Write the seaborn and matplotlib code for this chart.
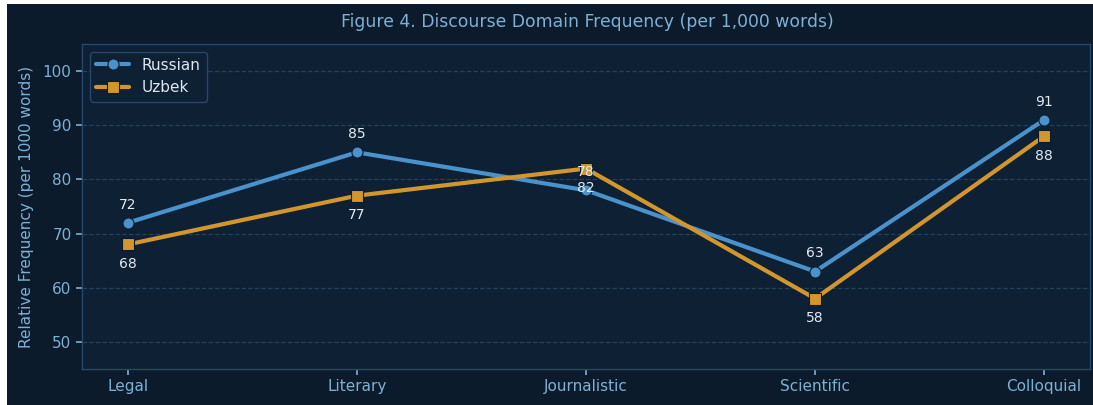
import pandas as pd
import seaborn as sns
import matplotlib.pyplot as plt
from matplotlib.patches import Rectangle

domains = ['Legal', 'Literary', 'Journalistic', 'Scientific', 'Colloquial']
russian = [72, 85, 78, 63, 91]
uzbek = [68, 77, 82, 58, 88]

bg = '#0c1b2b'
ax_bg = '#0e2033'
txt = '#7fb0d4'
blue = '#4a92cc'
gold = '#d3962c'

df = pd.DataFrame({
    'Domain': domains * 2,
    'Freq': russian + uzbek,
    'Language': ['Russian'] * 5 + ['Uzbek'] * 5,
})
df['x'] = list(range(5)) * 2

sns.set_style('dark')
plt.rcParams['font.family'] = ['DejaVu Sans']

fig = plt.figure(figsize=(10.93, 4.05), dpi=100, facecolor='white')
# dark panel, leaving the thin white page strip at top/left
fig.patches.append(Rectangle((7 / 1093, 0), 1, 401 / 405, transform=fig.transFigure,
                             facecolor=bg, edgecolor='none', zorder=-5))
ax = fig.add_axes([82 / 1093, 36 / 405, 1008 / 1093, 325 / 405])
ax.set_facecolor(ax_bg)

sns.lineplot(data=df, x='x', y='Freq', hue='Language', style='Language',
             markers={'Russian': 'o', 'Uzbek': 's'}, dashes=False,
             palette={'Russian': blue, 'Uzbek': gold}, linewidth=3,
             markersize=8, markeredgecolor=bg, markeredgewidth=0.8, ax=ax)

for i, v in enumerate(russian):
    ax.annotate(str(v), (i, v), xytext=(0, 13), textcoords='offset points',
                ha='center', va='center', color='#e3e9f0', fontsize=10)
for i, v in enumerate(uzbek):
    ax.annotate(str(v), (i, v), xytext=(0, -14), textcoords='offset points',
                ha='center', va='center', color='#e3e9f0', fontsize=10)

ax.set_xlim(-0.2, 4.2)
ax.set_ylim(45, 105)
ax.set_xticks(range(5))
ax.set_xticklabels(domains)
ax.set_yticks([50, 60, 70, 80, 90, 100])
ax.tick_params(colors=txt, labelsize=11, length=4, width=1.2, color=txt, left=True, bottom=True)
ax.set_xlabel('')
ax.set_ylabel('Relative Frequency (per 1000 words)', color=txt, fontsize=11, labelpad=6)
ax.grid(True, axis='y', linestyle='--', color='#24405c', linewidth=0.9)
ax.grid(False, axis='x')
for s in ax.spines.values():
    s.set_color('#27486a')
    s.set_linewidth(1)

fig.text(587 / 1093, 1 - 22 / 405, 'Figure 4. Discourse Domain Frequency (per 1,000 words)',
         ha='center', va='center', color=txt, fontsize=12.4)

leg = ax.legend(loc='upper left', fontsize=11, facecolor=ax_bg, edgecolor='#27486a',
                framealpha=1, labelcolor='#dce6f0', handlelength=2.2)
leg.set_title(None)

fig.savefig('out.png', dpi=100, facecolor=fig.get_facecolor())
